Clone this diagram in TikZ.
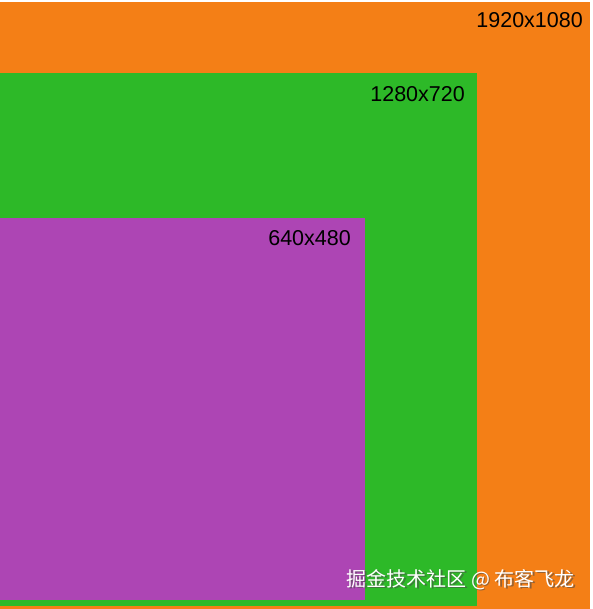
\documentclass[tikz,border=0pt]{standalone}
\usepackage{fontspec}
\setmainfont{Liberation Sans}
\newfontfamily\cjk{Noto Sans CJK SC}
\definecolor{orng}{HTML}{F47F16}
\definecolor{grn}{HTML}{2DB928}
\definecolor{prp}{HTML}{AD45B4}
\begin{document}
\begin{tikzpicture}[x=1pt,y=-1pt,
  lbl/.style={anchor=base east,inner sep=0pt,font=\fontsize{21.5}{24}\selectfont,text=black},
  wm/.style={anchor=base east,inner sep=0pt,font=\cjk\fontsize{20}{22}\selectfont}]
\useasboundingbox (0,0) rectangle (592,609);
\fill[white] (0,0) rectangle (592,609);
\fill[orng] (0,2) rectangle (590,609) coordinate (o);
\fill[grn] (0,73) rectangle (477,606);
\fill[prp] (0,218) rectangle (365,600);
\node[lbl] (l1) at (583,28) {1920x1080};
\node[lbl] (l2) at (465,102) {1280x720};
\node[lbl] (l3) at (351,245) {640x480};
\node[wm,text=black!70,opacity=0.6] (ws) at (576.5,587.5) {掘金技术社区 @ 布客飞龙};
\node[wm,text=white] (w) at (575,586) {掘金技术社区 @ 布客飞龙};
\end{tikzpicture}
\end{document}
